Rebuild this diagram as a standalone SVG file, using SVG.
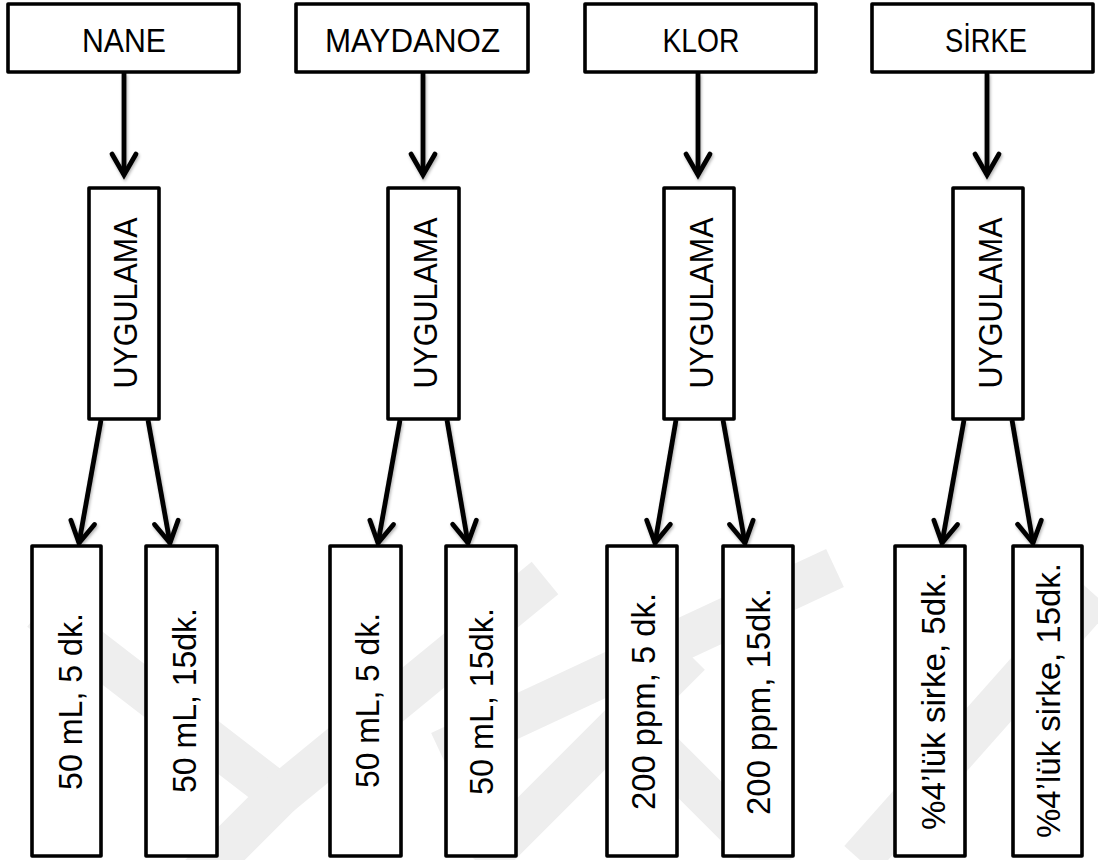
<svg xmlns="http://www.w3.org/2000/svg" width="1098" height="860" viewBox="0 0 1098 860">
  <defs>
    <style>
      .box { fill: #ffffff; stroke: #000000; stroke-width: 3.6; stroke-linejoin: round; }
      .top { font-family: "Liberation Sans", Arial, sans-serif; font-size: 34px; fill: #000; text-anchor: middle; }
      .uyg { font-family: "Liberation Sans", Arial, sans-serif; font-size: 33px; fill: #000; text-anchor: middle; }
      .low { font-family: "Liberation Sans", Arial, sans-serif; font-size: 34px; fill: #000; text-anchor: middle; }
      .conn { fill: none; stroke: #000; stroke-width: 4.8; }
      .wm { fill: none; stroke: #eeeeee; stroke-width: 42; stroke-linejoin: miter; }
    </style>
    <marker id="ah" markerUnits="userSpaceOnUse" markerWidth="30" markerHeight="30" refX="0" refY="0" orient="auto" overflow="visible">
      <path d="M -21,-12 L 0,0 L -21,12" fill="none" stroke="#000" stroke-width="4.8" stroke-linecap="round" stroke-linejoin="miter"/>
    </marker>
    <filter id="sh" x="-20%" y="-20%" width="140%" height="140%">
      <feDropShadow dx="1" dy="2" stdDeviation="1.5" flood-color="#000" flood-opacity="0.3"/>
    </filter>
  </defs>
  <rect width="1098" height="860" fill="#ffffff"/>

  <g id="watermark">
    <polyline class="wm" points="40,610 280,795 195,880"/>
    <line class="wm" x1="280" y1="795" x2="545" y2="578"/>
    <line class="wm" x1="835" y1="568" x2="440" y2="752"/>
    <line class="wm" x1="690" y1="655" x2="480" y2="865"/>
    <line class="wm" x1="650" y1="740" x2="780" y2="870"/>
    <line class="wm" x1="1095" y1="595" x2="860" y2="860"/>
  </g>

  <g id="connectors" filter="url(#sh)">
    <line class="conn" x1="124" y1="73" x2="124" y2="175" marker-end="url(#ah)"/>
    <line class="conn" x1="423" y1="73" x2="423" y2="175" marker-end="url(#ah)"/>
    <line class="conn" x1="698" y1="73" x2="698" y2="175" marker-end="url(#ah)"/>
    <line class="conn" x1="987" y1="73" x2="987" y2="175" marker-end="url(#ah)"/>

    <line class="conn" x1="101" y1="420" x2="79" y2="543" marker-end="url(#ah)"/>
    <line class="conn" x1="148" y1="420" x2="170" y2="543" marker-end="url(#ah)"/>
    <line class="conn" x1="400" y1="420" x2="378" y2="543" marker-end="url(#ah)"/>
    <line class="conn" x1="447" y1="420" x2="468" y2="543" marker-end="url(#ah)"/>
    <line class="conn" x1="676" y1="420" x2="655" y2="543" marker-end="url(#ah)"/>
    <line class="conn" x1="723" y1="420" x2="745" y2="543" marker-end="url(#ah)"/>
    <line class="conn" x1="964" y1="420" x2="942" y2="543" marker-end="url(#ah)"/>
    <line class="conn" x1="1012" y1="420" x2="1033" y2="543" marker-end="url(#ah)"/>
  </g>

  <g id="nane">
    <rect class="box" x="8" y="4" width="231" height="68"/>
    <text class="top" x="124" y="52" textLength="84" lengthAdjust="spacingAndGlyphs">NANE</text>
  </g>
  <g id="maydanoz">
    <rect class="box" x="296" y="4" width="232" height="68"/>
    <text class="top" x="412.5" y="52" textLength="175" lengthAdjust="spacingAndGlyphs">MAYDANOZ</text>
  </g>
  <g id="klor">
    <rect class="box" x="585" y="4" width="231" height="68"/>
    <text class="top" x="701" y="52" textLength="77" lengthAdjust="spacingAndGlyphs">KLOR</text>
  </g>
  <g id="sirke">
    <rect class="box" x="872" y="4" width="221" height="68"/>
    <text class="top" x="986" y="52" textLength="82" lengthAdjust="spacingAndGlyphs">SİRKE</text>
  </g>

  <g id="uyg-nane">
    <rect class="box" x="89" y="188" width="70" height="231"/>
    <text class="uyg" transform="translate(136.5,303) rotate(-90)" textLength="171" lengthAdjust="spacingAndGlyphs">UYGULAMA</text>
  </g>
  <g id="uyg-maydanoz">
    <rect class="box" x="388" y="188" width="71" height="231"/>
    <text class="uyg" transform="translate(436.5,303) rotate(-90)" textLength="171" lengthAdjust="spacingAndGlyphs">UYGULAMA</text>
  </g>
  <g id="uyg-klor">
    <rect class="box" x="664" y="188" width="70" height="231"/>
    <text class="uyg" transform="translate(712.5,303) rotate(-90)" textLength="171" lengthAdjust="spacingAndGlyphs">UYGULAMA</text>
  </g>
  <g id="uyg-sirke">
    <rect class="box" x="953" y="188" width="70" height="231"/>
    <text class="uyg" transform="translate(1001.5,303) rotate(-90)" textLength="171" lengthAdjust="spacingAndGlyphs">UYGULAMA</text>
  </g>

  <g id="nane-5">
    <rect class="box" x="32" y="546" width="69" height="310"/>
    <text class="low" transform="translate(82,701.5) rotate(-90)" textLength="177" lengthAdjust="spacingAndGlyphs">50 mL, 5 dk.</text>
  </g>
  <g id="nane-15">
    <rect class="box" x="146" y="546" width="71" height="310"/>
    <text class="low" transform="translate(196,700.5) rotate(-90)" textLength="185" lengthAdjust="spacingAndGlyphs">50 mL, 15dk.</text>
  </g>
  <g id="maydanoz-5">
    <rect class="box" x="330" y="546" width="71" height="310"/>
    <text class="low" transform="translate(379,700.5) rotate(-90)" textLength="175" lengthAdjust="spacingAndGlyphs">50 mL, 5 dk.</text>
  </g>
  <g id="maydanoz-15">
    <rect class="box" x="446" y="546" width="70" height="310"/>
    <text class="low" transform="translate(493,701.5) rotate(-90)" textLength="187" lengthAdjust="spacingAndGlyphs">50 mL, 15dk.</text>
  </g>
  <g id="klor-5">
    <rect class="box" x="607" y="546" width="70" height="310"/>
    <text class="low" transform="translate(655,701.5) rotate(-90)" textLength="217" lengthAdjust="spacingAndGlyphs">200 ppm, 5 dk.</text>
  </g>
  <g id="klor-15">
    <rect class="box" x="723" y="546" width="70" height="310"/>
    <text class="low" transform="translate(770,701.5) rotate(-90)" textLength="227" lengthAdjust="spacingAndGlyphs">200 ppm, 15dk.</text>
  </g>
  <g id="sirke-5">
    <rect class="box" x="895" y="546" width="70" height="310"/>
    <text class="low" transform="translate(945,701) rotate(-90)" textLength="258" lengthAdjust="spacingAndGlyphs">%4’lük sirke, 5dk.</text>
  </g>
  <g id="sirke-15">
    <rect class="box" x="1013" y="546" width="69" height="310"/>
    <text class="low" transform="translate(1060,700.5) rotate(-90)" textLength="275" lengthAdjust="spacingAndGlyphs">%4’lük sirke, 15dk.</text>
  </g>
</svg>
